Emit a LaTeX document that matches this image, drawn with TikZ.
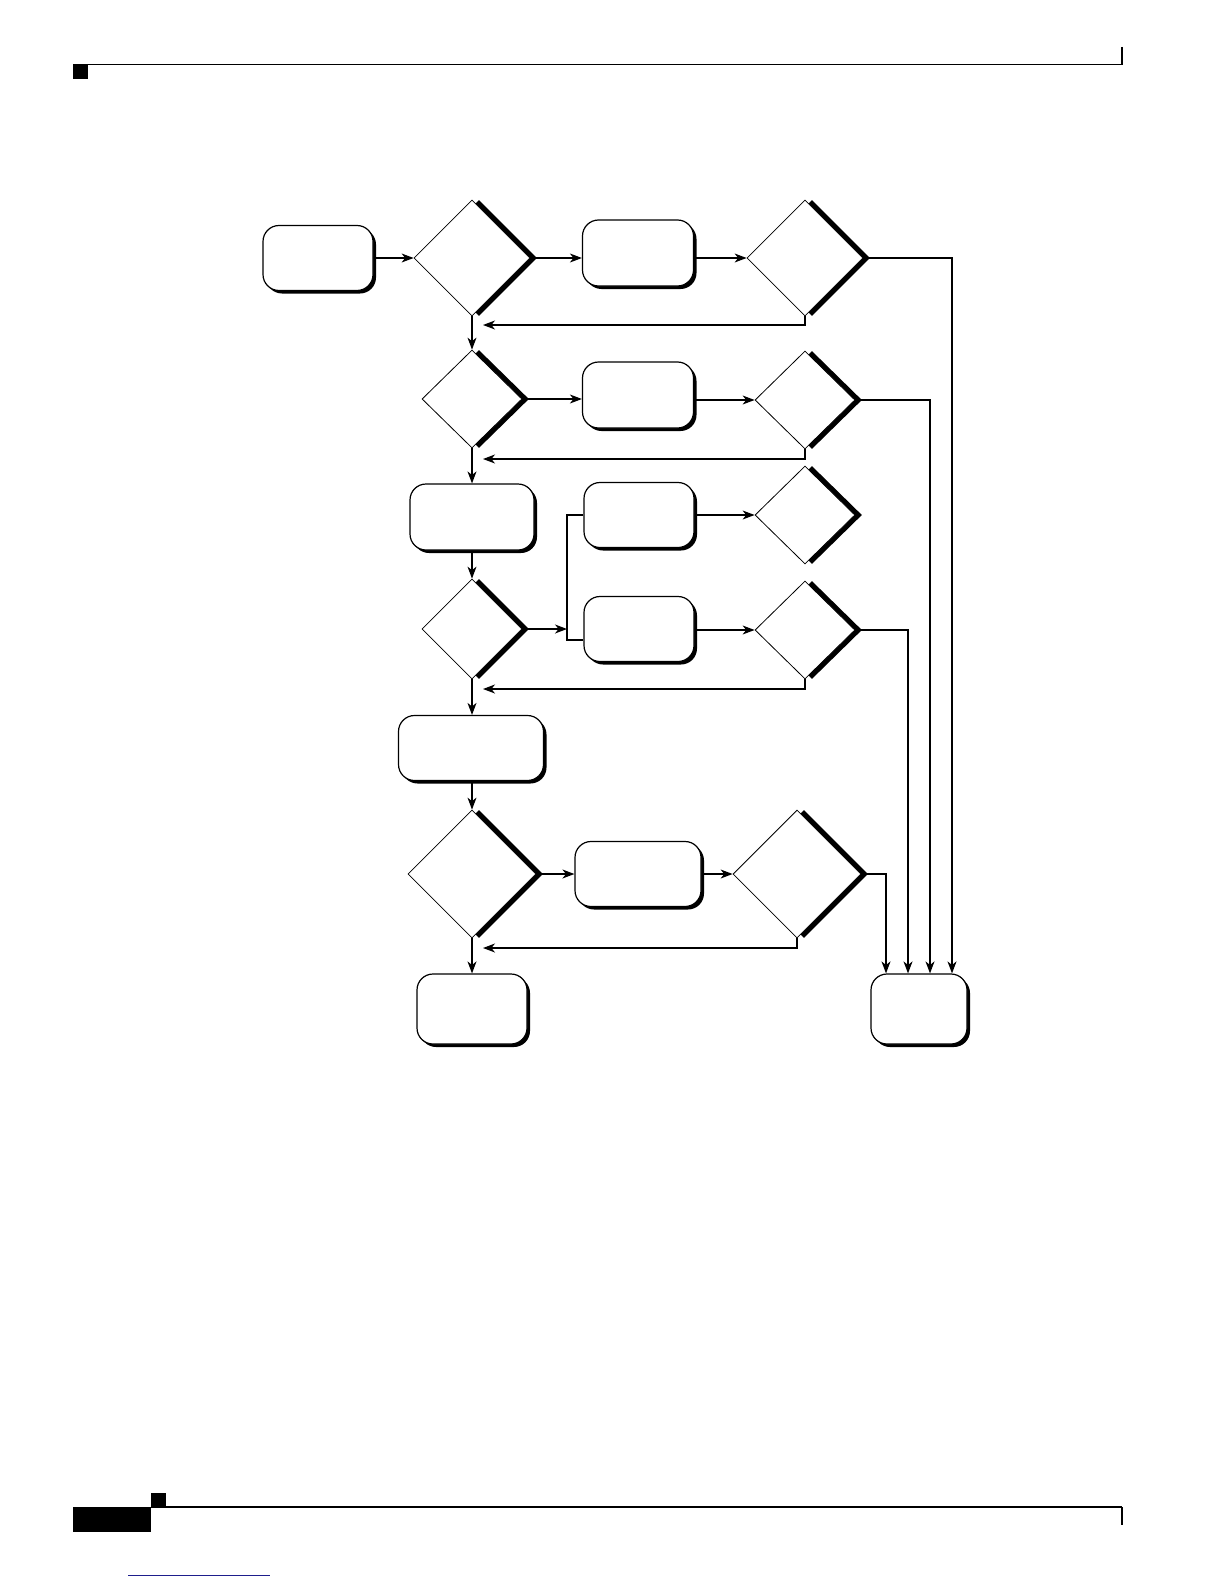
\documentclass[tikz,border=0pt]{standalone}
\usepackage{tikz}
\usetikzlibrary{shapes.geometric,shadows,arrows.meta}
\definecolor{linkblue}{RGB}{30,30,140}
\tikzset{
    box/.style={draw,line width=0.6pt,fill=white,rounded corners=8pt,inner sep=0pt,
        drop shadow={shadow xshift=1.5pt,shadow yshift=-1.5pt,fill=black,opacity=1}},
    test/.style={draw,diamond,aspect=1,line width=0.4pt,fill=white,inner sep=0pt,
        drop shadow={shadow xshift=3.5pt,shadow yshift=0pt,fill=black,opacity=1}},
    flow/.style={-{Stealth[length=6pt,width=4.5pt,inset=1.8pt]},line width=0.6pt}
}

\begin{document}
\begin{tikzpicture}[x=0.5pt,y=-0.5pt]
                \fill[white] (0,0) rectangle (1224,1584);
                \useasboundingbox (0,0) rectangle (1224,1584);

                \fill (73,64) rectangle (88,79);
                \draw[line width=0.6pt] (73,64.5)--(1122,64.5);
                \draw[line width=1pt] (1122,47)--(1122,65);
                \fill (73,1507) rectangle (151,1532);
                \fill (151,1493) rectangle (166,1507);
                \draw[line width=0.6pt] (151,1507)--(1122,1507);
                \draw[line width=1pt] (1122,1507)--(1122,1525);
                \draw[linkblue,line width=0.5pt] (128,1575)--(270,1575);

                \node[box,minimum width=55pt,minimum height=32.5pt] (start) at (318,258) {};
                \node[test,minimum width=58pt,minimum height=58pt] (q1) at (472,258) {};
                \node[box,minimum width=55.5pt,minimum height=33pt] (p1) at (638,253) {};
                \node[test,minimum width=58pt,minimum height=58pt] (q2) at (805,258) {};

                \node[test,minimum width=50pt,minimum height=49pt] (q3) at (472,399) {};
                \node[box,minimum width=55.5pt,minimum height=33pt] (p2) at (638,395) {};
                \node[test,minimum width=50pt,minimum height=49pt] (q4) at (805,400) {};

                \node[box,minimum width=62pt,minimum height=33pt] (p3) at (472,517) {};
                \node[box,minimum width=55pt,minimum height=32.5pt] (p4) at (639,515) {};
                \node[test,minimum width=50pt,minimum height=49pt] (q5) at (805,515) {};
                \node[test,minimum width=50pt,minimum height=50pt] (q6) at (472,629) {};
                \node[box,minimum width=55pt,minimum height=32.5pt] (p5) at (639,629) {};
                \node[test,minimum width=50pt,minimum height=49pt] (q7) at (805,630) {};

                \node[box,minimum width=72.5pt,minimum height=32.5pt] (p6) at (471,748) {};
                \node[test,minimum width=64pt,minimum height=64pt] (q8) at (472,874) {};
                \node[box,minimum width=63pt,minimum height=32.5pt] (p7) at (638,874) {};
                \node[test,minimum width=64pt,minimum height=64pt] (q9) at (797,874) {};

                \node[box,minimum width=55pt,minimum height=35pt] (stop) at (472,1009) {};
                \node[box,minimum width=48pt,minimum height=35pt] (fail) at (919,1009) {};

                \coordinate (r1) at (483,325);
                \coordinate (r2) at (483,459);
                \coordinate (r3) at (483,689);
                \coordinate (r4) at (483,948);
                \coordinate (k) at (567,640);

                \draw[flow] (start.east)--(q1.west);
                \draw[flow] (q1.east)--(q1.east -| p1.west);
                \draw[flow] (p1.east |- q2)--(q2.west);
                \draw[flow] (q2.east) -| ([xshift=16.5pt]fail.north);
                \draw[flow] (q2.south) |- (r1);
                \draw[flow] (q1.south)--(q3.north);

                \draw[flow] (q3.east)--(q3.east -| p2.west);
                \draw[flow] (p2.east |- q4)--(q4.west);
                \draw[flow] (q4.east) -| ([xshift=5.5pt]fail.north);
                \draw[flow] (q4.south) |- (r2);
                \draw[flow] (q3.south)--(p3.north);

                \draw[flow] (p3.south)--(q6.north);
                \draw[flow] (q6.east)--(q6.east -| k);
                \draw[line width=0.6pt] (p4.west) -| (k)--(k -| p5.west);
                \draw[flow] (p4.east)--(q5.west);
                \draw[flow] (p5.east |- q7)--(q7.west);
                \draw[flow] (q7.east) -| ([xshift=-5.5pt]fail.north);
                \draw[flow] (q7.south) |- (r3);
                \draw[flow] (q6.south)--(q6.south |- p6.north);

                \draw[flow] (p6.south -| q8)--(q8.north);
                \draw[flow] (q8.east)--(p7.west);
                \draw[flow] (p7.east)--(q9.west);
                \draw[flow] (q9.east) -| ([xshift=-16.5pt]fail.north);
                \draw[flow] (q9.south) |- (r4);
                \draw[flow] (q8.south)--(stop.north);
            \end{tikzpicture}
\end{document}
